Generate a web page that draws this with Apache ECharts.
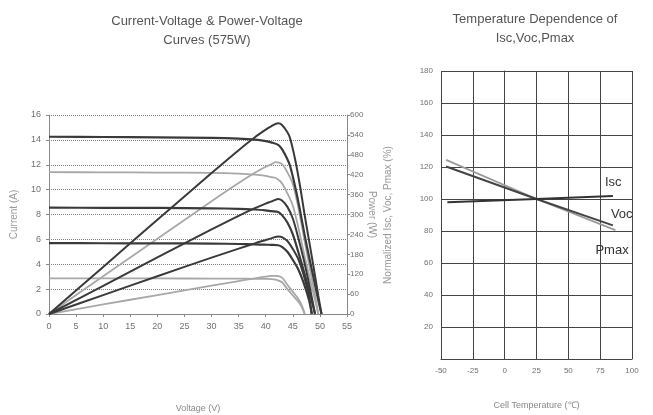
<!DOCTYPE html>
<html>
<head>
<meta charset="utf-8">
<script src="https://cdn.jsdelivr.net/npm/echarts@6/dist/echarts.min.js"></script>
<style>
  html, body { margin: 0; padding: 0; background: #fff; }
  #chart { width: 653px; height: 415px; }
</style>
</head>
<body>
<div id="chart"></div>
<script>
// I-V and P-V curves at five irradiance levels (1000, 800, 600, 400, 200 W/m²)
const V1000 = [0, 10, 20, 30, 35, 38, 40, 41, 42.3, 43, 44, 44.5, 45.4, 46.3, 47.2, 48, 49, 49.7, 50.3];
const I1000 = [14.25, 14.23, 14.2, 14.16, 14.1, 14.02, 13.9, 13.8, 13.6, 13.25, 12.45, 11.9, 10.3, 8.4, 6.3, 4.6, 2.55, 1.1, 0];
const P1000 = [0, 142, 284, 425, 494, 533, 556, 566, 575, 570, 548, 530, 468, 389, 297, 221, 125, 55, 0];

const V800 = [0, 10, 20, 30, 35, 38, 40, 41, 41.8, 43, 44, 45, 46, 47, 48, 49, 49.7];
const I800 = [11.4, 11.39, 11.37, 11.34, 11.28, 11.2, 11.1, 11.0, 10.95, 10.5, 9.7, 8.7, 7.0, 5.0, 3.1, 1.3, 0];
const P800 = [0, 114, 227, 340, 395, 426, 444, 451, 458, 452, 427, 392, 322, 235, 149, 64, 0];

const V600 = [0, 10, 20, 30, 35, 38, 40, 41, 42.3, 43, 44, 45, 46, 47, 48, 49.1];
const I600 = [8.55, 8.54, 8.53, 8.5, 8.46, 8.4, 8.33, 8.27, 8.2, 7.95, 7.35, 6.4, 5.0, 3.5, 1.9, 0];
const P600 = [0, 85, 171, 255, 296, 319, 333, 339, 347, 342, 323, 288, 230, 165, 91, 0];

const V400 = [0, 10, 20, 30, 35, 38, 40, 41, 42.3, 43, 44, 45, 46, 47, 48, 48.5];
const I400 = [5.7, 5.69, 5.68, 5.66, 5.63, 5.6, 5.57, 5.56, 5.53, 5.4, 5.0, 4.35, 3.6, 2.5, 1.1, 0];
const P400 = [0, 57, 114, 170, 197, 213, 223, 228, 234, 232, 220, 196, 166, 118, 53, 0];

const V200 = [0, 10, 20, 30, 35, 38, 40, 41, 42, 43, 44, 45, 46, 46.6, 47.2];
const I200 = [2.87, 2.865, 2.86, 2.85, 2.84, 2.83, 2.82, 2.81, 2.74, 2.55, 2.0, 1.5, 1.0, 0.6, 0];
const P200 = [0, 28.7, 57.2, 85.5, 99.4, 107.5, 112.8, 115.2, 115.1, 109.7, 88, 67.5, 46, 28, 0];

// Normalized temperature coefficients (% of value at 25 °C)
const tempIsc = [-45, 25, 85];
const valIsc = [98.0, 100, 101.8];
const tempVoc = [-46, 25, 85];
const valVoc = [120.3, 100, 83.5];
const tempPmax = [-46, 25, 87];
const valPmax = [124.5, 100, 80.5];

const pairs = (xs, ys) => xs.map((x, i) => [x, ys[i]]);

const FONT = 'Liberation Sans';
const DARK = '#3a3a3a';
const LIGHT = '#a8a8a8';
const tick = { fontSize: 9, color: '#707070', fontFamily: FONT };

function curve(name, xs, ys, yIdx, color, width) {
  return {
    name, type: 'line', xAxisIndex: 0, yAxisIndex: yIdx,
    data: pairs(xs, ys), showSymbol: false, smooth: 0.3,
    lineStyle: { color, width }, z: color === DARK ? 3 : 2
  };
}

function tempLine(name, xs, ys, color, width, offset) {
  return {
    name, type: 'line', xAxisIndex: 1, yAxisIndex: 2,
    data: pairs(xs, ys), showSymbol: false,
    lineStyle: { color, width },
    endLabel: { show: true, formatter: name, offset, fontSize: 13, color: '#333', fontFamily: FONT }
  };
}

const chart = echarts.init(document.getElementById('chart'), null, { renderer: 'canvas' });
chart.setOption({
  animation: false,
  backgroundColor: '#fff',
  textStyle: { fontFamily: FONT },
  title: [
    { text: 'Current-Voltage & Power-Voltage\nCurves (575W)', left: 202, top: 7, textAlign: 'center',
      textStyle: { fontSize: 13, fontWeight: 'normal', color: '#555', lineHeight: 19, fontFamily: FONT } },
    { text: 'Temperature Dependence of\nIsc,Voc,Pmax', left: 530, top: 5, textAlign: 'center',
      textStyle: { fontSize: 13, fontWeight: 'normal', color: '#555', lineHeight: 19, fontFamily: FONT } }
  ],
  grid: [
    { left: 49, right: 306, top: 115, bottom: 101 },
    { left: 441, right: 21, top: 71, bottom: 53 }
  ],
  xAxis: [
    { type: 'value', gridIndex: 0, min: 0, max: 55, interval: 5,
      name: 'Voltage (V)', nameLocation: 'middle', nameGap: 90,
      nameTextStyle: { fontSize: 9, color: '#888' },
      axisLine: { lineStyle: { color: '#888' } }, axisTick: { length: 3, lineStyle: { color: '#888' } },
      axisLabel: tick, splitLine: { show: false } },
    { type: 'value', gridIndex: 1, min: -50, max: 100, interval: 25,
      name: 'Cell Temperature (\u2103)', nameLocation: 'middle', nameGap: 42,
      nameTextStyle: { fontSize: 9, color: '#888' },
      axisLine: { lineStyle: { color: '#444' } }, axisTick: { show: false },
      axisLabel: Object.assign({}, tick, { fontSize: 8 }), splitLine: { lineStyle: { color: '#444', width: 1 } } }
  ],
  yAxis: [
    { type: 'value', gridIndex: 0, min: 0, max: 16, interval: 2, position: 'left',
      name: 'Current (A)', nameLocation: 'middle', nameGap: 30,
      nameTextStyle: { fontSize: 10, color: '#999' },
      axisLine: { show: true, lineStyle: { color: '#888' } }, axisTick: { show: true, length: 3, lineStyle: { color: '#888' } },
      axisLabel: tick,
      splitLine: { lineStyle: { color: '#808080', type: 'dotted', width: 1 } } },
    { type: 'value', gridIndex: 0, min: 0, max: 600, interval: 60, position: 'right',
      name: 'Power (W)', nameLocation: 'middle', nameGap: 17, nameRotate: -90,
      nameTextStyle: { fontSize: 10, color: '#999' },
      axisLine: { show: true, lineStyle: { color: '#888' } }, axisTick: { show: true, length: 3, lineStyle: { color: '#888' } },
      axisLabel: Object.assign({ margin: 3 }, tick, { fontSize: 8 }), splitLine: { show: false } },
    { type: 'value', gridIndex: 1, min: 0, max: 180, interval: 20,
      name: 'Normalized Isc, Voc, Pmax (%)', nameLocation: 'middle', nameGap: 48,
      nameTextStyle: { fontSize: 10, color: '#999' },
      axisLine: { show: true, lineStyle: { color: '#444' } }, axisTick: { show: false },
      axisLabel: Object.assign({ formatter: v => (v === 0 ? '' : v) }, tick, { fontSize: 8 }),
      splitLine: { lineStyle: { color: '#444', width: 1 } } },
  ],
  series: [
    // right-hand and top frame lines of the temperature plot
    { type: 'line', xAxisIndex: 1, yAxisIndex: 2, data: [], markLine: { silent: true, symbol: 'none',
      label: { show: false }, lineStyle: { color: '#444', type: 'solid', width: 1 },
      data: [{ xAxis: 100 }, { yAxis: 180 }] } },
    curve('I 1000', V1000, I1000, 0, DARK, 2.2),
    curve('I 800', V800, I800, 0, LIGHT, 1.8),
    curve('I 600', V600, I600, 0, DARK, 2.2),
    curve('I 400', V400, I400, 0, DARK, 2.2),
    curve('I 200', V200, I200, 0, LIGHT, 1.8),
    curve('P 1000', V1000, P1000, 1, DARK, 2),
    curve('P 800', V800, P800, 1, LIGHT, 1.8),
    curve('P 600', V600, P600, 1, DARK, 2),
    curve('P 400', V400, P400, 1, DARK, 2),
    curve('P 200', V200, P200, 1, LIGHT, 1.8),
    tempLine('Pmax', tempPmax, valPmax, '#9a9a9a', 1.8, [-28, 20]),
    tempLine('Voc', tempVoc, valVoc, '#444', 2, [-10, -11]),
    tempLine('Isc', tempIsc, valIsc, '#333', 2, [-16, -14])
  ]
});
</script>
</body>
</html>
